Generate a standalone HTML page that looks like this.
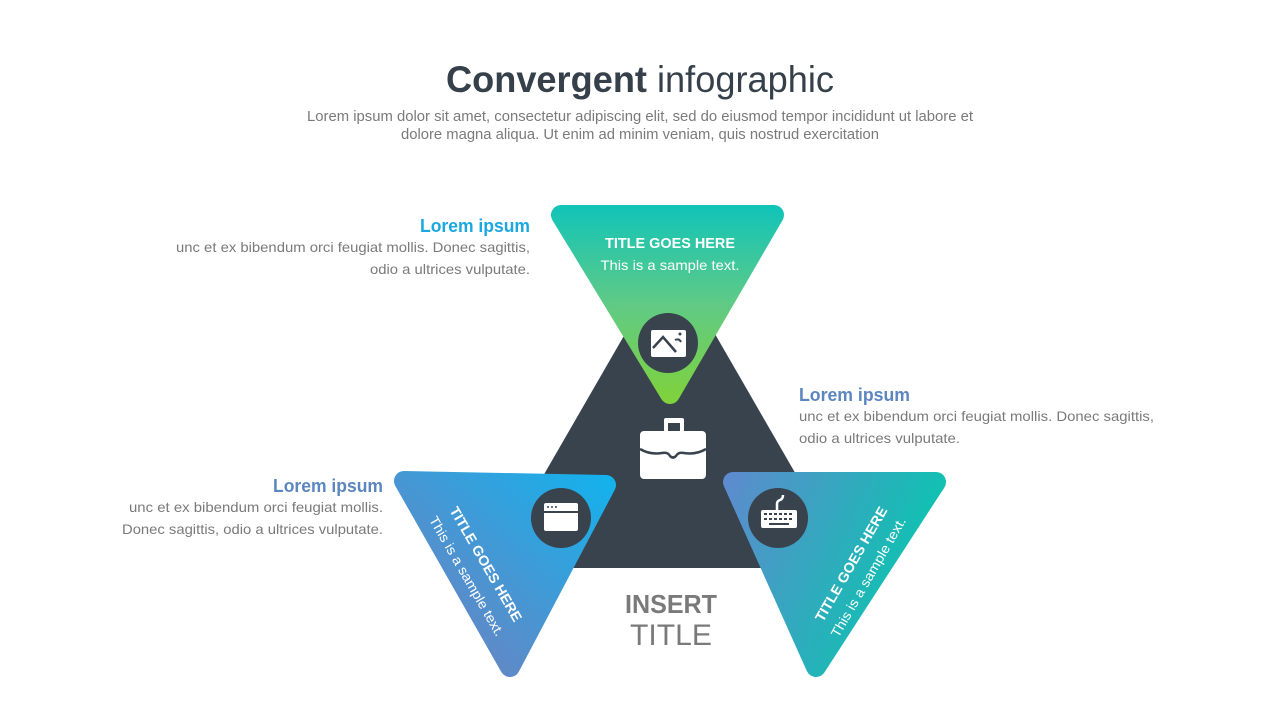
<!DOCTYPE html>
<html><head><meta charset="utf-8"><style>
html,body{margin:0;padding:0;background:#fff;}
svg{display:block;font-family:"Liberation Sans",sans-serif;}
</style></head><body>
<svg width="1280" height="720" viewBox="0 0 1280 720" xmlns="http://www.w3.org/2000/svg">
<defs>
<linearGradient id="gt" gradientUnits="userSpaceOnUse" x1="0" y1="207" x2="0" y2="400"><stop offset="0" stop-color="#12c4b8"/><stop offset="0.5" stop-color="#5fca86"/><stop offset="1" stop-color="#7fd23c"/></linearGradient>
<linearGradient id="gl" gradientUnits="userSpaceOnUse" x1="460" y1="640" x2="610" y2="480"><stop offset="0" stop-color="#6188c6"/><stop offset="1" stop-color="#14b2ec"/></linearGradient>
<linearGradient id="gr" gradientUnits="userSpaceOnUse" x1="730" y1="480" x2="930" y2="560"><stop offset="0" stop-color="#5c8ccd"/><stop offset="1" stop-color="#0cc4b0"/></linearGradient>
</defs>

<text x="640" y="92" text-anchor="middle" font-size="37" fill="#36404a" textLength="388" lengthAdjust="spacingAndGlyphs"><tspan font-weight="bold">Convergent</tspan> infographic</text>
<text x="640" y="121" text-anchor="middle" font-size="14.5" fill="#7a7a7a" textLength="666" lengthAdjust="spacingAndGlyphs">Lorem ipsum dolor sit amet, consectetur adipiscing elit, sed do eiusmod tempor incididunt ut labore et</text>
<text x="640" y="139" text-anchor="middle" font-size="14.5" fill="#7a7a7a" textLength="478" lengthAdjust="spacingAndGlyphs">dolore magna aliqua. Ut enim ad minim veniam, quis nostrud exercitation</text>

<text x="530" y="232" text-anchor="end" font-size="18" font-weight="bold" fill="#1aa8df" textLength="110" lengthAdjust="spacingAndGlyphs">Lorem ipsum</text>
<text x="530" y="252" text-anchor="end" font-size="14" fill="#7a7a7a" textLength="354" lengthAdjust="spacingAndGlyphs">unc et ex bibendum orci feugiat mollis. Donec sagittis,</text>
<text x="530" y="274" text-anchor="end" font-size="14" fill="#7a7a7a" textLength="160" lengthAdjust="spacingAndGlyphs">odio a ultrices vulputate.</text>

<text x="799" y="401" font-size="18" font-weight="bold" fill="#5b86c0" textLength="111" lengthAdjust="spacingAndGlyphs">Lorem ipsum</text>
<text x="799" y="421" font-size="14" fill="#7a7a7a" textLength="355" lengthAdjust="spacingAndGlyphs">unc et ex bibendum orci feugiat mollis. Donec sagittis,</text>
<text x="799" y="443" font-size="14" fill="#7a7a7a" textLength="161" lengthAdjust="spacingAndGlyphs">odio a ultrices vulputate.</text>

<text x="383" y="492" text-anchor="end" font-size="18" font-weight="bold" fill="#5b86c0" textLength="110" lengthAdjust="spacingAndGlyphs">Lorem ipsum</text>
<text x="383" y="512" text-anchor="end" font-size="14" fill="#7a7a7a" textLength="254" lengthAdjust="spacingAndGlyphs">unc et ex bibendum orci feugiat mollis.</text>
<text x="383" y="534" text-anchor="end" font-size="14" fill="#7a7a7a" textLength="261" lengthAdjust="spacingAndGlyphs">Donec sagittis, odio a ultrices vulputate.</text>

<polygon points="670,256 850,568 490,568" fill="#38434e"/>

<polygon points="561,215 774,215 670,394" fill="url(#gt)" stroke="url(#gt)" stroke-width="20" stroke-linejoin="round"/>
<polygon points="404,481 606,485 510,667" fill="url(#gl)" stroke="url(#gl)" stroke-width="20" stroke-linejoin="round"/>
<polygon points="733,482 936,482 816,667" fill="url(#gr)" stroke="url(#gr)" stroke-width="20" stroke-linejoin="round"/>

<text x="670" y="248" text-anchor="middle" font-size="14.5" font-weight="bold" fill="#fff" textLength="130" lengthAdjust="spacingAndGlyphs">TITLE GOES HERE</text>
<text x="670" y="270" text-anchor="middle" font-size="14" fill="#fff" textLength="139" lengthAdjust="spacingAndGlyphs">This is a sample text.</text>

<g transform="translate(486,564) rotate(60)">
<text x="0" y="5" text-anchor="middle" font-size="14" font-weight="bold" fill="#fff" textLength="130" lengthAdjust="spacingAndGlyphs">TITLE GOES HERE</text>
</g>
<g transform="translate(467,576) rotate(60)">
<text x="0" y="5" text-anchor="middle" font-size="13.5" fill="#fff" textLength="136" lengthAdjust="spacingAndGlyphs">This is a sample text.</text>
</g>
<g transform="translate(851,564) rotate(-60)">
<text x="0" y="5" text-anchor="middle" font-size="14" font-weight="bold" fill="#fff" textLength="130" lengthAdjust="spacingAndGlyphs">TITLE GOES HERE</text>
</g>
<g transform="translate(868,577) rotate(-60)">
<text x="0" y="5" text-anchor="middle" font-size="13.5" fill="#fff" textLength="136" lengthAdjust="spacingAndGlyphs">This is a sample text.</text>
</g>

<circle cx="668" cy="343" r="30" fill="#38434e"/>
<circle cx="561" cy="518" r="30" fill="#38434e"/>
<circle cx="778" cy="518" r="30" fill="#38434e"/>

<rect x="651" y="330" width="35" height="27" rx="2" fill="#fff"/>
<polyline points="653,348 663,337 676,352" fill="none" stroke="#38434e" stroke-width="2.5"/>
<path d="M675,340 q4,-2 6,2" fill="none" stroke="#38434e" stroke-width="2"/>
<circle cx="680" cy="334" r="1.5" fill="#38434e"/>

<rect x="544" y="503" width="34" height="28" rx="2" fill="#fff"/>
<rect x="544" y="511" width="34" height="2" fill="#38434e"/>
<circle cx="548" cy="507" r="1" fill="#38434e"/><circle cx="552" cy="507" r="1" fill="#38434e"/><circle cx="556" cy="507" r="1" fill="#38434e"/>

<path d="M777,510 v-6 q0,-3 3,-4 q3,-1 3,-5" fill="none" stroke="#fff" stroke-width="2.5"/>
<rect x="761" y="510" width="36" height="18" rx="2" fill="#fff"/>
<g fill="#38434e">
<rect x="764" y="513" width="3" height="2"/><rect x="769" y="513" width="3" height="2"/><rect x="774" y="513" width="3" height="2"/><rect x="779" y="513" width="3" height="2"/><rect x="784" y="513" width="3" height="2"/><rect x="789" y="513" width="3" height="2"/>
<rect x="764" y="518" width="3" height="2"/><rect x="769" y="518" width="3" height="2"/><rect x="774" y="518" width="3" height="2"/><rect x="779" y="518" width="3" height="2"/><rect x="784" y="518" width="3" height="2"/><rect x="789" y="518" width="3" height="2"/>
<rect x="769" y="523" width="20" height="2"/>
</g>

<rect x="664" y="418" width="20" height="14" rx="2" fill="#fff"/>
<rect x="668" y="423" width="12" height="9" fill="#38434e"/>
<rect x="640" y="431" width="66" height="48" rx="4" fill="#fff"/>
<path d="M640,449 q10,6 22,4 q6,-1 8,3 q3,3 6,0 q2,-4 8,-3 q12,2 22,-4" fill="none" stroke="#38434e" stroke-width="2.5"/>

<text x="671" y="613" text-anchor="middle" font-size="26" font-weight="bold" fill="#7a7a7a" textLength="92" lengthAdjust="spacingAndGlyphs">INSERT</text>
<text x="671" y="645" text-anchor="middle" font-size="30" fill="#7a7a7a" textLength="82" lengthAdjust="spacingAndGlyphs">TITLE</text>
</svg>
</body></html>
